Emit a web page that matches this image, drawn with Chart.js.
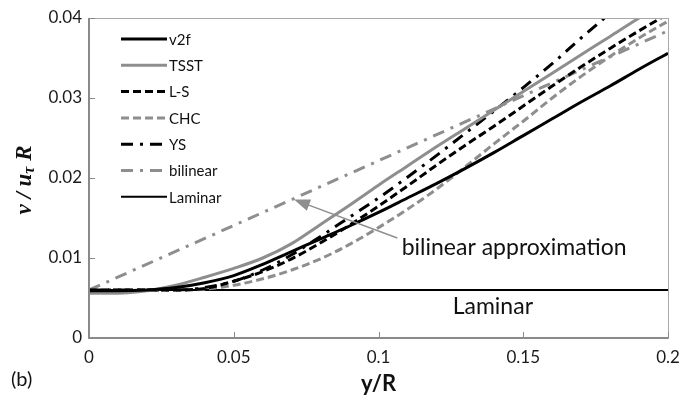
<!DOCTYPE html>
<html>
<head>
<meta charset="utf-8">
<script src="https://cdn.jsdelivr.net/npm/chart.js@4.4.0/dist/chart.umd.min.js"></script>
<style>
  html, body { margin: 0; padding: 0; background: #fff; }
  #wrap { width: 693px; height: 400px; }
</style>
</head>
<body>
<div id="wrap"><canvas id="chart" width="693" height="400"></canvas></div>
<script>
// y/R positions shared by the model curves
const xValues = [0, 0.01, 0.02, 0.03, 0.04, 0.05, 0.06, 0.07, 0.08, 0.09, 0.10,
                 0.11, 0.12, 0.13, 0.14, 0.15, 0.16, 0.17, 0.18, 0.19, 0.20];

// v / (u_tau R)
const v2fValues  = [0.0059, 0.0059, 0.0060, 0.0063, 0.0069, 0.0078, 0.0092, 0.0108, 0.0124, 0.0140, 0.0157,
                    0.0175, 0.0193, 0.0212, 0.0232, 0.0253, 0.0274, 0.0295, 0.0315, 0.0336, 0.0356];
const tsstValues = [0.0056, 0.0056, 0.0059, 0.0066, 0.0076, 0.0087, 0.0100, 0.0118, 0.0142, 0.0166, 0.0191,
                    0.0215, 0.0239, 0.0262, 0.0285, 0.0308, 0.0331, 0.0354, 0.0377, 0.0400, 0.0422];
const lsValues   = [0.0060, 0.0060, 0.0060, 0.0060, 0.0062, 0.0071, 0.0083, 0.0099, 0.0119, 0.0141, 0.0165,
                    0.0190, 0.0216, 0.0241, 0.0265, 0.0290, 0.0315, 0.0339, 0.0362, 0.0384, 0.0405];
const chcValues  = [0.0060, 0.0060, 0.0060, 0.0060, 0.0061, 0.0066, 0.0074, 0.0085, 0.0099, 0.0117, 0.0138,
                    0.0161, 0.0186, 0.0214, 0.0243, 0.0271, 0.0300, 0.0327, 0.0352, 0.0375, 0.0396];
const ysValues   = [0.0060, 0.0060, 0.0060, 0.0060, 0.0063, 0.0071, 0.0085, 0.0104, 0.0127, 0.0151, 0.0175,
                    0.0201, 0.0228, 0.0256, 0.0284, 0.0313, 0.0343, 0.0375, 0.0406, 0.0437, 0.0468];

// bilinear approximation and laminar value
const bilinearX = [0, 0.07, 0.2];
const bilinearValues = [0.0060, 0.0173, 0.0384];
const laminarX = [0, 0.2];
const laminarValues = [0.006, 0.006];

// axis ticks
const xTicks = [0, 0.05, 0.1, 0.15, 0.2];
const xTickLabels = ['0', '0.05', '0.1', '0.15', '0.2'];
const yTicks = [0, 0.01, 0.02, 0.03, 0.04];
const yTickLabels = ['0', '0.01', '0.02', '0.03', '0.04'];

const GRAY = '#8e8e8e';
const SANS = 'Lato, "Open Sans", sans-serif';

function pts(xs, ys) {
    return xs.map((x, i) => ({ x: x, y: ys[i] }));
}

const datasets = [
    { label: 'v2f', data: pts(xValues, v2fValues), borderColor: '#000', borderWidth: 3, borderDash: [] },
    { label: 'TSST', data: pts(xValues, tsstValues), borderColor: GRAY, borderWidth: 3, borderDash: [] },
    { label: 'L-S', data: pts(xValues, lsValues), borderColor: '#000', borderWidth: 3, borderDash: [8, 4] },
    { label: 'CHC', data: pts(xValues, chcValues), borderColor: GRAY, borderWidth: 3, borderDash: [8, 4] },
    { label: 'YS', data: pts(xValues, ysValues), borderColor: '#000', borderWidth: 3, borderDash: [12, 7, 3, 7] },
    { label: 'bilinear', data: pts(bilinearX, bilinearValues), borderColor: GRAY, borderWidth: 3, borderDash: [12, 7, 3, 7] },
    { label: 'Laminar', data: pts(laminarX, laminarValues), borderColor: '#000', borderWidth: 2, borderDash: [] }
].map(d => Object.assign(d, { pointRadius: 0, fill: false, cubicInterpolationMode: 'monotone' }));

// frame, inner ticks, legend, labels, axis titles
const decor = {
    id: 'decor',
    afterDraw(chart) {
        const ctx = chart.ctx;
        const a = chart.chartArea;
        const xs = chart.scales.x, ys = chart.scales.y;
        ctx.save();

        // frame
        ctx.strokeStyle = '#a8a8a8';
        ctx.lineWidth = 1;
        ctx.strokeRect(a.left + 0.5, a.top + 0.5, a.right - a.left, a.bottom - a.top);
        ctx.strokeStyle = '#8a8a8a';
        ctx.lineWidth = 2;
        ctx.beginPath();
        ctx.moveTo(a.left, a.top);
        ctx.lineTo(a.left, a.bottom);
        ctx.lineTo(a.right, a.bottom);
        ctx.stroke();

        // inner tick marks
        ctx.lineWidth = 1;
        ctx.beginPath();
        xTicks.forEach(v => {
            const px = Math.round(xs.getPixelForValue(v)) + 0.5;
            ctx.moveTo(px, a.bottom);
            ctx.lineTo(px, a.bottom - 6);
        });
        yTicks.forEach(v => {
            const py = Math.round(ys.getPixelForValue(v)) + 0.5;
            ctx.moveTo(a.left, py);
            ctx.lineTo(a.left + 6, py);
        });
        ctx.stroke();

        // legend
        ctx.font = '15px ' + SANS;
        ctx.textBaseline = 'middle';
        ctx.textAlign = 'left';
        chart.data.datasets.forEach((d, i) => {
            const y = a.top + 21 + i * 26.3;
            ctx.strokeStyle = d.borderColor;
            ctx.lineWidth = d.borderWidth;
            ctx.setLineDash(d.borderDash);
            ctx.beginPath();
            ctx.moveTo(a.left + 32, y);
            ctx.lineTo(a.left + 78, y);
            ctx.stroke();
            ctx.setLineDash([]);
            ctx.fillStyle = '#111';
            ctx.fillText(d.label, a.left + 80, y + 1);
        });

        // annotation arrow to the bilinear line
        const tipX = xs.getPixelForValue(0.0708), tipY = ys.getPixelForValue(0.0173);
        const tailX = xs.getPixelForValue(0.1065), tailY = ys.getPixelForValue(0.0125);
        const ang = Math.atan2(tipY - tailY, tipX - tailX);
        ctx.strokeStyle = GRAY;
        ctx.fillStyle = GRAY;
        ctx.lineWidth = 1.5;
        ctx.beginPath();
        ctx.moveTo(tailX, tailY);
        ctx.lineTo(tipX - 10 * Math.cos(ang), tipY - 10 * Math.sin(ang));
        ctx.stroke();
        ctx.beginPath();
        ctx.moveTo(tipX, tipY);
        ctx.lineTo(tipX - 16 * Math.cos(ang) + 6 * Math.sin(ang), tipY - 16 * Math.sin(ang) - 6 * Math.cos(ang));
        ctx.lineTo(tipX - 16 * Math.cos(ang) - 6 * Math.sin(ang), tipY - 16 * Math.sin(ang) + 6 * Math.cos(ang));
        ctx.closePath();
        ctx.fill();

        ctx.fillStyle = '#111';
        ctx.font = '23px ' + SANS;
        ctx.textAlign = 'left';
        ctx.fillText('bilinear approximation', xs.getPixelForValue(0.108), ys.getPixelForValue(0.0113));
        ctx.textAlign = 'center';
        ctx.fillText('Laminar', xs.getPixelForValue(0.1395), ys.getPixelForValue(0.0039));

        // x title
        ctx.font = 'bold 22px ' + SANS;
        ctx.fillText('y/R', xs.getPixelForValue(0.1), 384);

        // panel label
        ctx.font = '20px ' + SANS;
        ctx.textAlign = 'left';
        ctx.fillText('(b)', 11, 380);

        // y title: v / u_tau R
        ctx.translate(25, 180);
        ctx.rotate(-Math.PI / 2);
        const big = 'bold italic 23px "Liberation Serif", "DejaVu Serif", serif';
        const small = 'bold italic 16px "Liberation Serif", "DejaVu Serif", serif';
        const parts = [['v / u', big, 0], ['\u03c4', small, 5], [' R', big, 0]];
        let w = 0;
        parts.forEach(p => { ctx.font = p[1]; w += ctx.measureText(p[0]).width; });
        let cx = -w / 2;
        ctx.textAlign = 'left';
        parts.forEach(p => {
            ctx.font = p[1];
            ctx.fillText(p[0], cx, p[2]);
            cx += ctx.measureText(p[0]).width;
        });

        ctx.restore();
    }
};

new Chart(document.getElementById('chart'), {
    type: 'line',
    data: { datasets: datasets },
    options: {
        responsive: false,
        animation: false,
        layout: { padding: { left: 0, right: 25, top: 18, bottom: 0 } },
        plugins: { legend: { display: false }, tooltip: { enabled: false } },
        scales: {
            x: {
                type: 'linear', min: 0, max: 0.2,
                afterBuildTicks: s => { s.ticks = xTicks.map(v => ({ value: v })); },
                afterFit: s => { s.height = 62; },
                grid: { display: false, drawTicks: false },
                border: { display: false },
                ticks: {
                    padding: 9, color: '#1a1a1a', font: { family: SANS, size: 17 },
                    callback: (v) => xTickLabels[xTicks.indexOf(v)]
                }
            },
            y: {
                type: 'linear', min: 0, max: 0.04,
                afterBuildTicks: s => { s.ticks = yTicks.map(v => ({ value: v })); },
                afterFit: s => { s.width = 89; },
                grid: { display: false, drawTicks: false },
                border: { display: false },
                ticks: {
                    padding: 7, color: '#1a1a1a', font: { family: SANS, size: 17 },
                    callback: (v) => yTickLabels[yTicks.indexOf(v)]
                }
            }
        }
    },
    plugins: [decor]
});
</script>
</body>
</html>
